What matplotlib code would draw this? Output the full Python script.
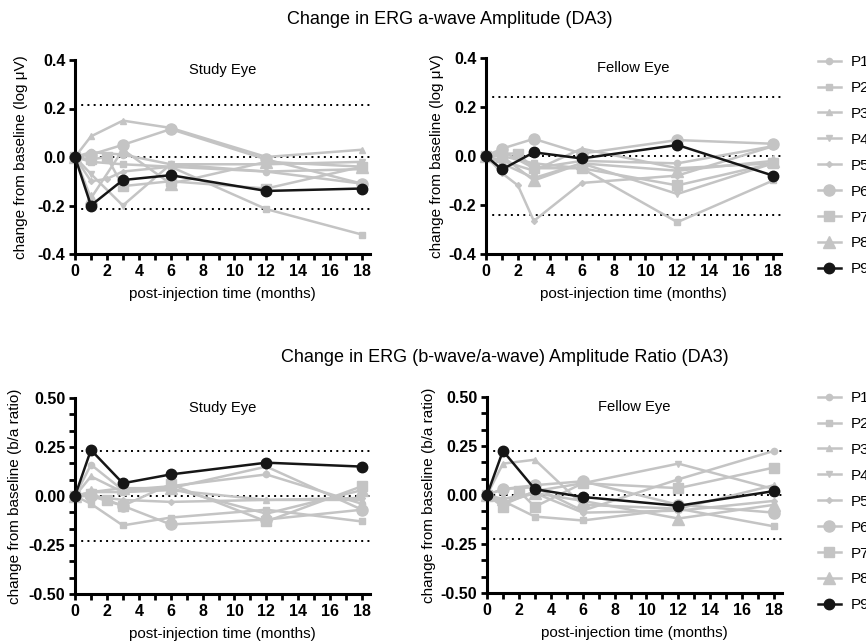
import numpy as np
import matplotlib
matplotlib.use("Agg")
import matplotlib.pyplot as plt
from matplotlib.ticker import FixedLocator
from matplotlib.lines import Line2D

plt.rcParams['font.family'] = ['Liberation Sans', 'DejaVu Sans']
plt.rcParams['axes.unicode_minus'] = False

patients = ["P1", "P2", "P3", "P4", "P5", "P6", "P7", "P8", "P9"]
months = [0, 1, 2, 3, 6, 12, 18]
nan = np.nan

# ---- a-wave, study eye (log uV)
a_study = {
    "P1": [0, 0.02, nan, 0.01, -0.03, -0.06, -0.05],
    "P2": [0, -0.02, nan, -0.03, -0.04, -0.215, -0.32],
    "P3": [0, 0.085, nan, 0.15, 0.12, 0.00, 0.03],
    "P4": [0, -0.07, nan, -0.20, -0.03, -0.03, -0.02],
    "P5": [0, -0.10, -0.09, -0.06, -0.04, -0.06, -0.11],
    "P6": [0, 0.01, nan, 0.05, 0.115, -0.01, -0.11],
    "P7": [0, -0.01, 0.00, -0.12, -0.10, -0.13, -0.04],
    "P8": [0, -0.17, nan, 0.03, -0.11, -0.02, -0.04],
    "P9": [0, -0.20, nan, -0.095, -0.075, -0.14, -0.13],
}
# ---- a-wave, fellow eye (log uV)
a_fellow = {
    "P1": [0, 0.02, nan, -0.05, -0.02, -0.03, 0.04],
    "P2": [0, 0.00, nan, -0.03, -0.05, -0.27, -0.10],
    "P3": [0, -0.02, nan, -0.06, 0.03, -0.05, -0.03],
    "P4": [0, -0.03, nan, -0.09, -0.03, -0.155, -0.03],
    "P5": [0, -0.07, -0.12, -0.265, -0.11, -0.08, 0.04],
    "P6": [0, 0.03, nan, 0.07, 0.01, 0.065, 0.05],
    "P7": [0, 0.01, 0.01, -0.05, -0.05, -0.12, -0.03],
    "P8": [0, 0.00, nan, -0.10, -0.03, -0.06, -0.02],
    "P9": [0, -0.055, nan, 0.015, -0.01, 0.045, -0.08],
}
# ---- b/a ratio, study eye
r_study = {
    "P1": [0, 0.16, nan, 0.03, 0.05, 0.11, -0.04],
    "P2": [0, -0.04, nan, -0.15, -0.11, -0.07, -0.13],
    "P3": [0, 0.10, nan, 0.02, 0.03, -0.02, -0.02],
    "P4": [0, 0.02, nan, 0.02, 0.04, 0.15, -0.07],
    "P5": [0, 0.00, nan, -0.02, -0.03, -0.02, -0.01],
    "P6": [0, 0.00, nan, -0.05, -0.145, -0.12, -0.07],
    "P7": [0, 0.01, -0.02, -0.05, 0.06, -0.13, 0.05],
    "P8": [0, 0.02, nan, 0.04, 0.04, -0.09, 0.03],
    "P9": [0, 0.235, nan, 0.065, 0.11, 0.17, 0.15],
}
# ---- b/a ratio, fellow eye
r_fellow = {
    "P1": [0, 0.03, nan, 0.04, -0.08, 0.08, 0.225],
    "P2": [0, -0.03, nan, -0.11, -0.13, -0.07, -0.16],
    "P3": [0, 0.16, nan, 0.18, -0.05, -0.07, 0.05],
    "P4": [0, -0.05, nan, 0.02, 0.06, 0.16, 0.03],
    "P5": [0, -0.04, nan, 0.01, -0.09, -0.08, -0.03],
    "P6": [0, 0.03, nan, 0.05, 0.07, -0.05, -0.09],
    "P7": [0, -0.06, 0.02, -0.06, 0.06, 0.035, 0.14],
    "P8": [0, -0.02, nan, 0.01, -0.03, -0.12, -0.05],
    "P9": [0, 0.225, nan, 0.03, -0.01, -0.055, 0.02],
}

limits = {"a_study": 0.215, "a_fellow": 0.24, "r_study": 0.23, "r_fellow": 0.225}

GRAY = '#c4c4c4'
styles = {
    "P1": dict(marker='o', ms=4.5, color=GRAY),
    "P2": dict(marker='s', ms=4.5, color=GRAY),
    "P3": dict(marker='^', ms=5, color=GRAY),
    "P4": dict(marker='v', ms=5, color=GRAY),
    "P5": dict(marker='D', ms=3, color=GRAY),
    "P6": dict(marker='o', ms=8, color=GRAY),
    "P7": dict(marker='s', ms=7.5, color=GRAY),
    "P8": dict(marker='^', ms=8, color=GRAY),
    "P9": dict(marker='o', ms=7.5, color='#161616'),
}

W, H = 866, 642
fig = plt.figure(figsize=(W / 100, H / 100), dpi=100)


def px_axes(l, r, t, b):
    return fig.add_axes([l / W, 1 - b / H, (r - l) / W, (b - t) / H])


def panel(ax, data, lim, ylim, ymaj, yminor, yfmt, ylabel, sub, ypad):
    x = np.array(months, dtype=float)
    for p in patients:
        y = np.array(data[p], dtype=float)
        m = np.isfinite(y)
        st = styles[p]
        ax.plot(x[m], y[m], lw=1.8, marker=st['marker'], ms=st['ms'],
                color=st['color'], mec=st['color'], mfc=st['color'],
                zorder=4 if p == "P9" else 2, clip_on=False)
    for yv in (lim, 0, -lim):
        ax.axhline(yv, color='black', lw=1.4, ls=(0, (1, 2.2)), zorder=1)
    ax.set_xlim(0, 18.5)
    ax.set_ylim(*ylim)
    for s in ('top', 'right'):
        ax.spines[s].set_visible(False)
    for s in ('left', 'bottom'):
        ax.spines[s].set_linewidth(2.2)
    ax.xaxis.set_major_locator(FixedLocator(list(range(0, 19, 2))))
    ax.xaxis.set_minor_locator(FixedLocator(list(range(1, 19, 2))))
    ax.yaxis.set_major_locator(FixedLocator(ymaj))
    if yminor:
        ax.yaxis.set_minor_locator(FixedLocator(yminor))
    ax.set_yticklabels([yfmt % v for v in ymaj])
    ax.tick_params(which='both', direction='out', width=2.0, length=4.5,
                   labelsize=11.5, pad=2.5)
    for lab in ax.get_xticklabels() + ax.get_yticklabels():
        lab.set_fontweight('bold')
    ax.set_xlabel("post-injection time (months)", fontsize=11, labelpad=6)
    ax.set_ylabel(ylabel, fontsize=11, labelpad=ypad)
    ax.text(0.5, 0.985, sub, transform=ax.transAxes, ha='center', va='top',
            fontsize=10.6)


ax1 = px_axes(75, 370, 60, 254)
ax2 = px_axes(486, 781, 58, 254)
ax3 = px_axes(75, 370, 398, 594)
ax4 = px_axes(487, 782, 397, 593)

amaj = [-0.4, -0.2, 0.0, 0.2, 0.4]
rmaj = [-0.5, -0.25, 0.0, 0.25, 0.5]
rmin = [v for v in np.arange(-0.5, 0.5001, 0.25 / 3) if min(abs(v - r) for r in rmaj) > 1e-6]

panel(ax1, a_study, limits["a_study"], (-0.4, 0.4), amaj, None, '%.1f',
      "change from baseline (log μV)", "Study Eye", 7)
panel(ax2, a_fellow, limits["a_fellow"], (-0.4, 0.4), amaj, None, '%.1f',
      "change from baseline (log μV)", "Fellow Eye", 3)
panel(ax3, r_study, limits["r_study"], (-0.5, 0.5), rmaj, rmin, '%.2f',
      "change from baseline (b/a ratio)", "Study Eye", 5)
panel(ax4, r_fellow, limits["r_fellow"], (-0.5, 0.5), rmaj, rmin, '%.2f',
      "change from baseline (b/a ratio)", "Fellow Eye", 3)

fig.text(450 / W, 1 - 20 / H, "Change in ERG a-wave Amplitude (DA3)",
         ha='center', va='center', fontsize=13)
fig.text(505 / W, 1 - 357 / H, "Change in ERG (b-wave/a-wave) Amplitude Ratio (DA3)",
         ha='center', va='center', fontsize=13)


def handles():
    hs = []
    for p in patients:
        st = styles[p]
        hs.append(Line2D([], [], lw=1.8, color=st['color'], marker=st['marker'],
                         ms=st['ms'], mec=st['color'], mfc=st['color']))
    return hs


for top in (55, 391):
    fig.legend(handles(), patients, loc='upper left',
               bbox_to_anchor=(818 / W, 1 - top / H), frameon=False,
               fontsize=11, handlelength=1.5, handletextpad=0.65,
               labelspacing=0.78, borderaxespad=0, borderpad=0)

fig.savefig("out.png", dpi=100)
